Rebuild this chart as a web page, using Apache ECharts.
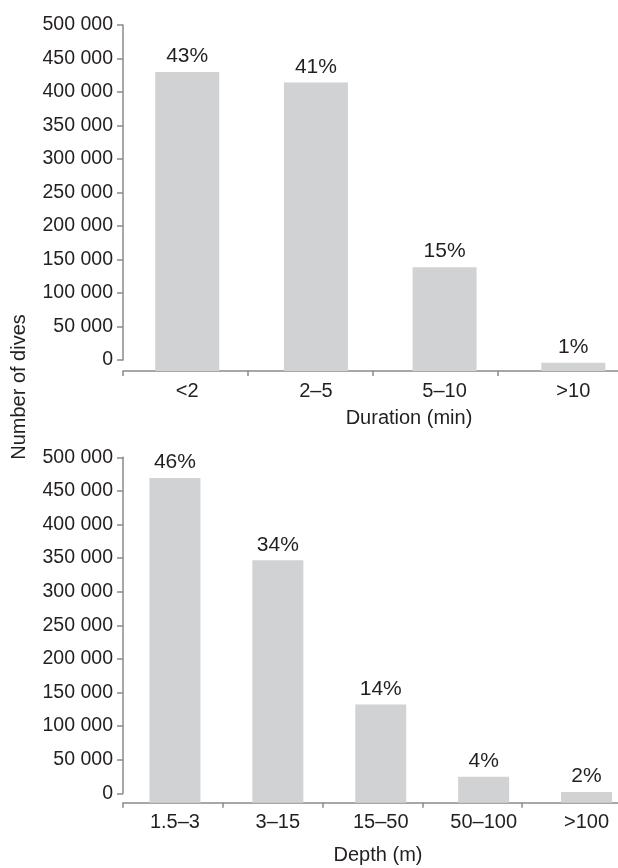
<!DOCTYPE html>
<html>
<head>
<meta charset="utf-8">
<script src="https://cdn.jsdelivr.net/npm/echarts@6/dist/echarts.min.js"></script>
<style>
  html, body { margin: 0; padding: 0; background: #fff; }
  #main { width: 618px; height: 868px; }
</style>
</head>
<body>
<div id="main"></div>
<script>
// duration panel (top)
var durCats = ['<2', '2–5', '5–10', '>10'];
var durDives = [432000, 417000, 150000, 12000];
var durPct = ['43%', '41%', '15%', '1%'];

// depth panel (bottom)
var depthCats = ['1.5–3', '3–15', '15–50', '50–100', '>100'];
var depthDives = [470000, 351000, 142000, 37600, 15500];
var depthPct = ['46%', '34%', '14%', '4%', '2%'];

// y ticks
var yMin = 0, yMax = 500000, yStep = 50000;

var font = "'Liberation Sans', Arial, sans-serif";
var txt = '#231f20';
var axisCol = '#8a8a8a';
var barCol = '#d1d2d4';

function fmt(v) {
    return String(v).replace(/\B(?=(\d{3})+(?!\d))/g, ' ');
}

var myChart = echarts.init(document.getElementById('main'));

function g(left, width, top, height) {
    return {left: left, width: width, top: top, height: height, outerBoundsMode: 'none', containLabel: false};
}

// bars axis: labels only
function barX(idx, cats) {
    return {
        type: 'category', gridIndex: idx, data: cats,
        axisLine: {show: false}, axisTick: {show: false},
        axisLabel: {show: true, margin: 10, color: txt, fontSize: 20, fontFamily: font}
    };
}
// tick axis: line and ticks only
function tickX(idx, n) {
    var d = [];
    for (var i = 0; i < n; i++) d.push('');
    return {
        type: 'category', gridIndex: idx, data: d,
        axisLine: {show: true, lineStyle: {color: axisCol, width: 1.5}},
        axisTick: {show: true, length: 5, lineStyle: {color: axisCol, width: 1.5}},
        axisLabel: {show: false}
    };
}
function hideX(idx) {
    return {type: 'value', gridIndex: idx, show: false};
}
function hideY(idx) {
    return {type: 'value', gridIndex: idx, min: yMin, max: yMax, show: false};
}
function showY(idx) {
    return {
        type: 'value', gridIndex: idx, min: yMin, max: yMax, interval: yStep,
        splitLine: {show: false},
        axisLine: {show: true, lineStyle: {color: axisCol, width: 1.5}},
        axisTick: {show: true, length: 6, lineStyle: {color: axisCol, width: 1.5}},
        axisLabel: {
            margin: 10, color: txt, fontSize: 19.5, fontFamily: font,
            padding: [0, 0, 7, 0],
            formatter: function (v) { return fmt(v); }
        }
    };
}
function bars(xi, yi, values, pct, w) {
    return {
        type: 'bar', xAxisIndex: xi, yAxisIndex: yi, data: values,
        barWidth: w, itemStyle: {color: barCol},
        label: {
            show: true, position: 'top', distance: 5,
            color: txt, fontSize: 21, fontFamily: font,
            formatter: function (p) { return pct[p.dataIndex]; }
        }
    };
}

var option = {
    animation: false,
    grid: [
        g(122.85, 514.8, 25, 346),   // top bars
        g(123, 499, 25, 346),        // top ticks
        g(123, 499, 25, 335),        // top y axis
        g(123.5, 514.5, 457.3, 345.4), // bottom bars
        g(123, 499, 457.3, 345.4),     // bottom ticks
        g(123, 499, 457.3, 336)        // bottom y axis
    ],
    xAxis: [
        barX(0, durCats), tickX(1, 4), hideX(2),
        barX(3, depthCats), tickX(4, 5), hideX(5)
    ],
    yAxis: [
        hideY(0), hideY(1), showY(2),
        hideY(3), hideY(4), showY(5)
    ],
    series: [
        bars(0, 0, durDives, durPct, 64),
        bars(3, 3, depthDives, depthPct, 51)
    ],
    graphic: [
        {type: 'text', x: 409, y: 418, style: {text: 'Duration (min)', fill: txt, font: '20px ' + font, align: 'center', verticalAlign: 'middle'}},
        {type: 'text', x: 378, y: 855, style: {text: 'Depth (m)', fill: txt, font: '20px ' + font, align: 'center', verticalAlign: 'middle'}},
        {type: 'text', x: 19, y: 387, rotation: Math.PI / 2, style: {text: 'Number of dives', fill: txt, font: '20px ' + font, align: 'center', verticalAlign: 'middle'}}
    ]
};
myChart.setOption(option);
</script>
</body>
</html>
